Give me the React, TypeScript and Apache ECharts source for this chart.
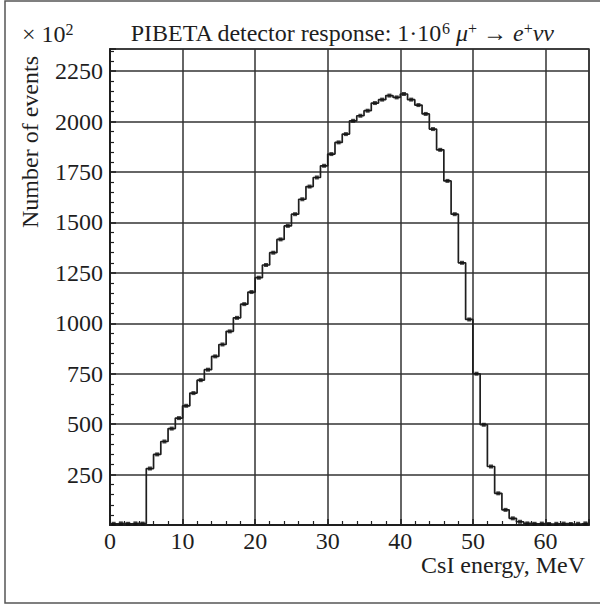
import { useEffect, useRef } from 'react'
import * as echarts from 'echarts'

// counts per 1 MeV bin (×10²), bins start at 0 MeV
const binWidth = 1
const counts = [
  6, 8, 6, 8, 7,
  280, 350, 414, 478, 530,
  591, 654, 718, 770, 836,
  895, 960, 1027, 1095, 1155,
  1226, 1289, 1350, 1416, 1483,
  1541, 1615, 1678, 1723, 1781,
  1839, 1897, 1938, 2004, 2029,
  2054, 2092, 2109, 2129, 2120,
  2137, 2109, 2082, 2038, 1963,
  1860, 1706, 1541, 1300, 1019,
  750, 497, 290, 157, 75,
  33, 16, 8, 6, 7,
  5, 6, 7, 5, 6, 8,
]
const xTicks = [0, 10, 20, 30, 40, 50, 60]
const yTicks = [250, 500, 750, 1000, 1250, 1500, 1750, 2000, 2250]

const SERIF = '"Liberation Serif", "DejaVu Serif", serif'
const INK = '#1e1e1e'
const GRIDC = '#333'

export default function App() {
  const chartRef = useRef<HTMLDivElement>(null)

  useEffect(() => {
    document.body.style.margin = '0'
    if (!chartRef.current) return
    const chart = echarts.init(chartRef.current, undefined, { renderer: 'svg' })

    // step outline: left edge of each bin + closing point
    const stepData: number[][] = counts.map((c, i) => [i * binWidth, c])
    stepData.push([counts.length * binWidth, counts[counts.length - 1]])
    const pointData = counts.map((c, i) => [(i + 0.5) * binWidth, c])

    const option: echarts.EChartsOption = {
      animation: false,
      backgroundColor: '#fff',
      grid: {
        left: 110, right: 11, top: 49, bottom: 83,
        show: true, borderColor: GRIDC, borderWidth: 1.5,
      },
      xAxis: {
        type: 'value',
        min: 0,
        max: 66,
        interval: 10,
        axisLine: { show: true, onZero: false, lineStyle: { color: INK, width: 2 } },
        axisTick: { show: true, inside: true, length: 6, lineStyle: { color: INK, width: 1.5 } },
        minorTick: { show: true, splitNumber: 5, length: 4, lineStyle: { color: INK, width: 1.2 } },
        splitLine: { show: true, lineStyle: { color: GRIDC, width: 1.5 } },
        axisLabel: {
          color: INK, fontFamily: SERIF, fontSize: 24, lineHeight: 20, margin: 6,
          formatter: (v: number) => (xTicks.includes(v) ? String(v) : ''),
        },
      },
      yAxis: {
        type: 'value',
        min: 0,
        max: 2360,
        interval: 250,
        axisLine: { show: true, onZero: false, lineStyle: { color: INK, width: 2 } },
        axisTick: { show: true, inside: true, length: 6, lineStyle: { color: INK, width: 1.5 } },
        minorTick: { show: true, splitNumber: 5, length: 4, lineStyle: { color: INK, width: 1.2 } },
        splitLine: { show: true, lineStyle: { color: GRIDC, width: 1.5 } },
        axisLabel: {
          color: INK, fontFamily: SERIF, fontSize: 24, lineHeight: 20, margin: 7,
          formatter: (v: number) => (yTicks.includes(v) ? String(v) : ''),
        },
      },
      series: [
        {
          type: 'line',
          step: 'end',
          data: stepData,
          symbol: 'none',
          lineStyle: { color: INK, width: 1.7 },
          z: 3,
        },
        {
          type: 'scatter',
          data: pointData,
          symbol: 'rect',
          symbolSize: 4,
          itemStyle: { color: '#111' },
          z: 4,
        },
      ],
      graphic: [
        {
          type: 'rect',
          shape: { x: 5, y: 1, width: 620, height: 602 },
          style: { fill: 'none', stroke: '#555', lineWidth: 1.5 },
          silent: true,
        },
        {
          type: 'text',
          x: 22, y: 46,
          style: {
            text: '{m|×}{b| 10}{s|2}',
            verticalAlign: 'bottom',
            fill: INK,
            rich: {
              m: { fontFamily: SERIF, fontSize: 24, fill: INK },
              b: { fontFamily: SERIF, fontSize: 24, fill: INK },
              s: { fontFamily: SERIF, fontSize: 16, fill: INK, verticalAlign: 'top', padding: [0, 0, 9, 0] },
            },
          },
        },
        {
          type: 'text',
          x: 342, y: 33,
          style: {
            text: '{t|PIBETA detector response: 1·10}{s|6}{t| }{i|μ}{s|+}{t| → }{i|e}{s|+}{i|νν}',
            align: 'center',
            verticalAlign: 'middle',
            fill: INK,
            rich: {
              t: { fontFamily: SERIF, fontSize: 24, fill: INK },
              i: { fontFamily: SERIF, fontSize: 24, fontStyle: 'italic', fill: INK },
              s: { fontFamily: SERIF, fontSize: 16, fill: INK, verticalAlign: 'top', padding: [0, 0, 9, 0] },
            },
          },
        },
        {
          type: 'text',
          x: 585, y: 565,
          style: {
            text: 'CsI energy, MeV',
            align: 'right',
            verticalAlign: 'middle',
            fontFamily: SERIF,
            fontSize: 24,
            lineHeight: 20,
            fill: INK,
          },
        },
        {
          type: 'text',
          x: 30, y: 142,
          rotation: Math.PI / 2,
          style: {
            text: 'Number of events',
            align: 'center',
            verticalAlign: 'middle',
            fontFamily: SERIF,
            fontSize: 24,
            lineHeight: 20,
            fill: INK,
          },
        },
      ],
    }

    chart.setOption(option)
    return () => chart.dispose()
  }, [])

  return <div ref={chartRef} style={{ width: 600, height: 608 }} />
}
